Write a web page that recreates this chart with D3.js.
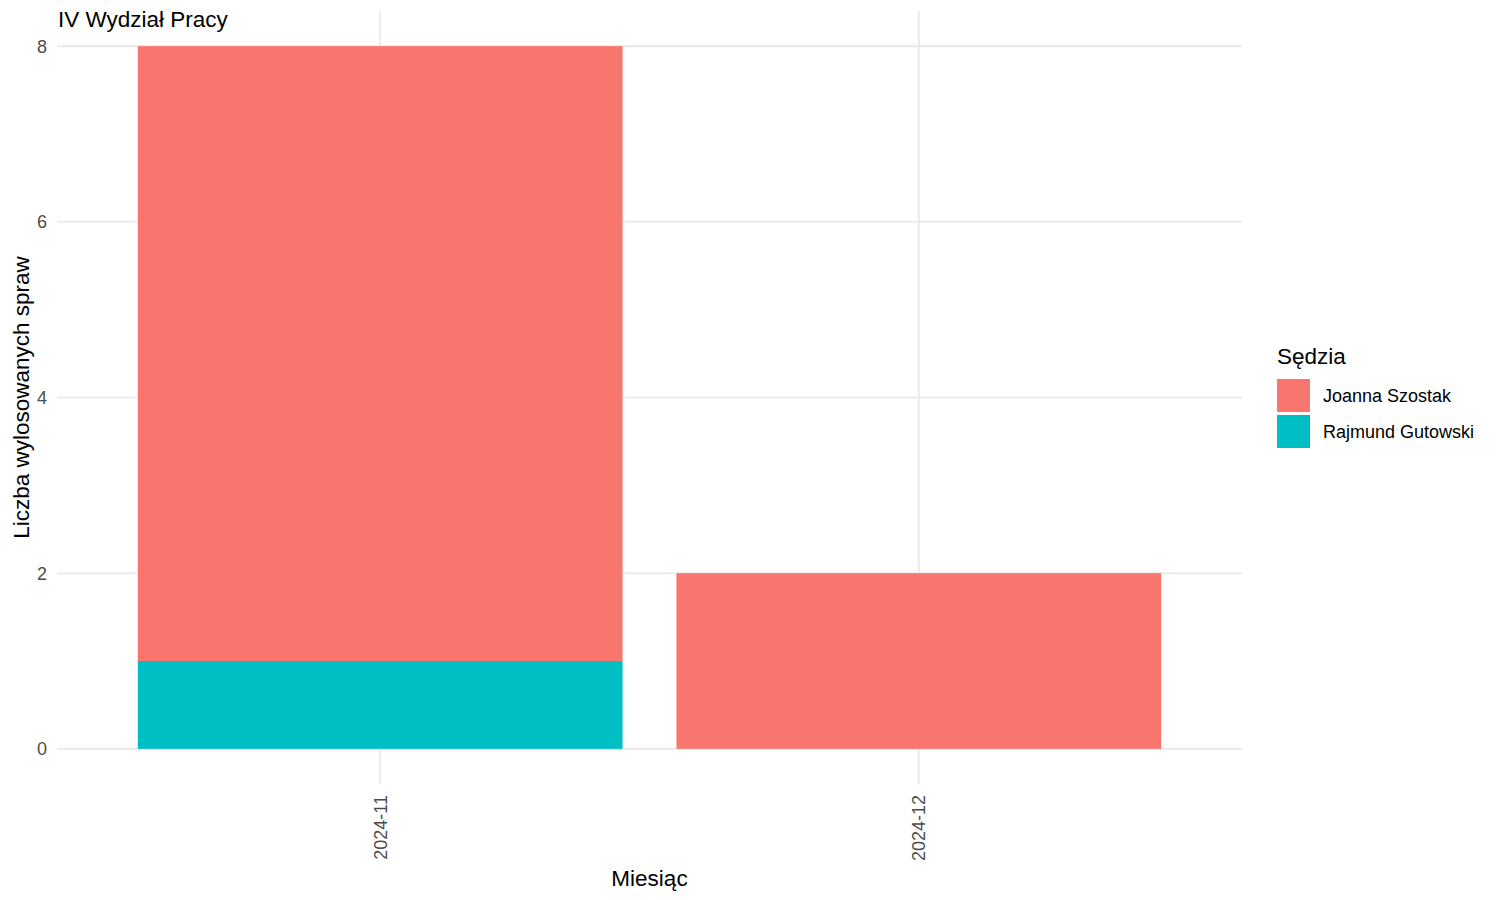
<!DOCTYPE html>
<html>
<head>
<meta charset="utf-8">
<script src="https://cdn.jsdelivr.net/npm/d3@7"></script>
<style>
  html, body { margin: 0; padding: 0; background: #fff; }
  text { font-family: "Liberation Sans", Arial, sans-serif; }
</style>
</head>
<body>
<svg id="chart" width="1500" height="900"></svg>
<script>
const months = ["2024-11", "2024-12"];
const judges = ["Joanna Szostak", "Rajmund Gutowski"];
const joannaValues = [7, 2];
const rajmundValues = [1, 0];
const yTicks = [0, 2, 4, 6, 8];
const colors = ["#F8766D", "#00BFC4"];
const title = "IV Wydział Pracy";
const xTitle = "Miesiąc";
const yTitle = "Liczba wylosowanych spraw";
const legendTitle = "Sędzia";

const svg = d3.select("#chart");
const panel = { left: 57, right: 1242, top: 11, bottom: 784 };

const x = d3.scaleLinear().domain([0.4, months.length + 0.6]).range([panel.left, panel.right]);
const y = d3.scaleLinear().domain([-0.4, 8.4]).range([panel.bottom, panel.top]);

const grid = svg.append("g");
yTicks.forEach(t => {
  grid.append("line").attr("x1", panel.left).attr("x2", panel.right)
    .attr("y1", y(t)).attr("y2", y(t)).attr("stroke", "#EBEBEB").attr("stroke-width", 2.1);
});
months.forEach((m, i) => {
  grid.append("line").attr("x1", x(i + 1)).attr("x2", x(i + 1))
    .attr("y1", panel.top).attr("y2", panel.bottom).attr("stroke", "#EBEBEB").attr("stroke-width", 2.1);
});

const rows = months.map((m, i) => ({ month: m, idx: i + 1, "Joanna Szostak": joannaValues[i], "Rajmund Gutowski": rajmundValues[i] }));
const stack = d3.stack().keys(["Rajmund Gutowski", "Joanna Szostak"]);
const series = stack(rows);
const color = d3.scaleOrdinal().domain(judges).range(colors);

series.forEach(s => {
  svg.append("g").selectAll("rect").data(s.filter(d => d[1] - d[0] > 0)).join("rect")
    .attr("x", d => x(d.data.idx - 0.45))
    .attr("width", d => x(d.data.idx + 0.45) - x(d.data.idx - 0.45))
    .attr("y", d => y(d[1]))
    .attr("height", d => y(d[0]) - y(d[1]))
    .attr("fill", color(s.key));
});

svg.append("g").selectAll("text").data(yTicks).join("text")
  .attr("x", 47).attr("y", d => y(d)).attr("dy", "0.36em")
  .attr("text-anchor", "end").attr("font-size", 18).attr("fill", "#4D4D4D")
  .text(d => d);

months.forEach((m, i) => {
  svg.append("text")
    .attr("transform", `translate(${x(i + 1) + 6.5},795) rotate(-90)`)
    .attr("text-anchor", "end").attr("font-size", 18).attr("fill", "#4D4D4D")
    .text(m);
});

svg.append("text").attr("x", (panel.left + panel.right) / 2).attr("y", 886)
  .attr("text-anchor", "middle").attr("font-size", 22.5).attr("fill", "#000").text(xTitle);
svg.append("text").attr("transform", `translate(29,${(panel.top + panel.bottom) / 2}) rotate(-90)`)
  .attr("text-anchor", "middle").attr("font-size", 22.5).attr("fill", "#000").text(yTitle);

svg.append("text").attr("x", 58).attr("y", 27).attr("font-size", 22.5).attr("fill", "#000").text(title);

const lg = svg.append("g");
lg.append("text").attr("x", 1277).attr("y", 364).attr("font-size", 22.5).attr("fill", "#000").text(legendTitle);
judges.forEach((j, i) => {
  lg.append("rect").attr("x", 1277).attr("y", 379 + i * 36).attr("width", 33).attr("height", 33)
    .attr("fill", color(j));
  lg.append("text").attr("x", 1323).attr("y", 396 + i * 36).attr("dy", "0.36em")
    .attr("font-size", 18).attr("fill", "#000").text(j);
});
</script>
</body>
</html>
